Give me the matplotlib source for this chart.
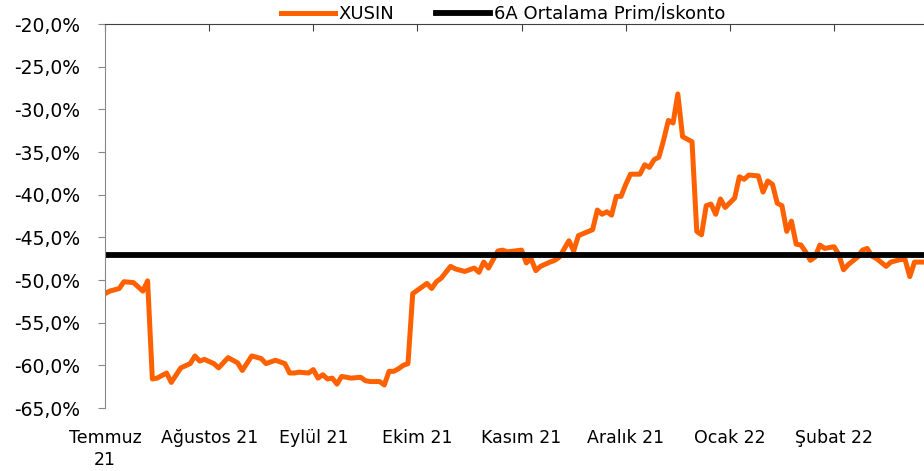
import matplotlib
matplotlib.use("Agg")
import matplotlib.pyplot as plt
from matplotlib.ticker import FuncFormatter

plt.rcParams['font.family'] = ['DejaVu Sans']

# islem gunu sirasi (0 = Temmuz 21 basi) ve XUSIN prim/iskonto (%)
gun = [0, 1, 3, 4, 6, 8, 9, 10, 11, 13, 14, 16, 18, 19, 20, 21, 23, 24, 26, 28,
       29, 31, 33, 34, 36, 38, 39, 40, 41, 43, 44, 45, 46, 47, 48, 49, 50, 52, 54, 55,
       56, 58, 59, 60, 61, 62, 63, 64, 65, 66, 68, 69, 70, 71, 73, 74, 76, 78, 79, 80,
       81, 83, 84, 85, 88, 89, 90, 91, 92, 94, 95, 96, 98, 99, 100, 103, 104, 105, 106, 107,
       108, 109, 110, 111, 113, 114, 115, 116, 117, 118, 119, 120, 121, 122, 124, 125, 126, 127, 128, 129,
       130, 131, 133, 134, 135, 136, 138, 139, 140, 141, 142, 143, 144, 145, 146, 147, 148, 149, 150, 151,
       152, 154, 155, 156, 157, 159, 160, 161, 162, 163, 165, 166, 168, 169, 170, 171, 173]
xusin = [-51.6, -51.3, -51.0, -50.2, -50.3, -51.3, -50.1, -61.6, -61.5, -60.9, -62.0, -60.3, -59.8, -58.9, -59.5, -59.3, -59.8, -60.3, -59.1, -59.7,
         -60.6, -58.9, -59.2, -59.8, -59.4, -59.8, -60.9, -60.9, -60.8, -60.9, -60.5, -61.5, -61.1, -61.6, -61.5, -62.2, -61.3, -61.5, -61.4, -61.8,
         -61.9, -61.9, -62.3, -60.7, -60.7, -60.4, -60.0, -59.8, -51.6, -51.2, -50.4, -51.0, -50.2, -49.8, -48.4, -48.7, -49.0, -48.6, -49.1, -47.9,
         -48.6, -46.6, -46.5, -46.7, -46.5, -48.0, -47.5, -48.9, -48.4, -47.9, -47.7, -47.3, -45.4, -46.6, -44.8, -44.1, -41.8, -42.3, -42.0, -42.4,
         -40.2, -40.2, -38.8, -37.6, -37.6, -36.5, -36.8, -35.9, -35.6, -33.6, -31.3, -31.6, -28.2, -33.2, -33.8, -44.3, -44.7, -41.3, -41.1, -42.3,
         -40.5, -41.5, -40.4, -37.9, -38.2, -37.7, -37.8, -39.7, -38.4, -38.8, -41.0, -41.3, -44.3, -43.1, -45.8, -45.9, -46.7, -47.7, -47.3, -45.9,
         -46.3, -46.1, -47.0, -48.8, -48.2, -47.3, -46.5, -46.3, -47.2, -47.5, -48.4, -47.9, -47.6, -47.6, -49.6, -47.9, -47.9]

ortalama = -47.1   # 6A ortalama prim/iskonto

ay_yeri = [0, 22, 44, 66, 88, 110, 132, 154]
ay_etiket = ["Temmuz\n21", "Ağustos 21", "Eylül 21", "Ekim 21", "Kasım 21",
             "Aralık 21", "Ocak 22", "Şubat 22"]
y_tikler = [-65, -60, -55, -50, -45, -40, -35, -30, -25, -20]

fig = plt.figure(figsize=(9.24, 4.71), dpi=100)
ax = fig.add_axes([105/924, 63/471, 819/924, 384/471])

ax.plot(gun, xusin, color='#FF6100', lw=3.6, label='XUSIN', solid_joinstyle='round')
ax.axhline(ortalama, color='black', lw=4.2, label='6A Ortalama Prim/İskonto')

ax.set_xlim(0, gun[-1])
ax.set_ylim(-65, -20)
ax.set_yticks(y_tikler)
ax.yaxis.set_major_formatter(FuncFormatter(lambda v, p: ("%.1f%%" % v).replace('.', ',')))
ax.set_xticks(ay_yeri)
ax.set_xticklabels(ay_etiket, fontsize=12.5, linespacing=1.3)

# x ekseni ustte (tikler ust cizgide), etiketler altta
ax.tick_params(axis='x', bottom=False, top=True, direction='in', length=5,
               color='#404040', labelbottom=True, pad=15)
ax.tick_params(axis='y', direction='out', length=5, color='#888888', labelsize=13.5, pad=13)

ax.spines['right'].set_visible(False)
ax.spines['bottom'].set_visible(False)
ax.spines['left'].set_color('#888888')
ax.spines['top'].set_color('#404040')

fig.legend(loc='center', bbox_to_anchor=(503/924, 1 - 14/471), ncol=2, frameon=False,
           fontsize=13, handlelength=3.0, handletextpad=0.2, columnspacing=2.3,
           borderpad=0)

fig.savefig('out.png', dpi=100)
